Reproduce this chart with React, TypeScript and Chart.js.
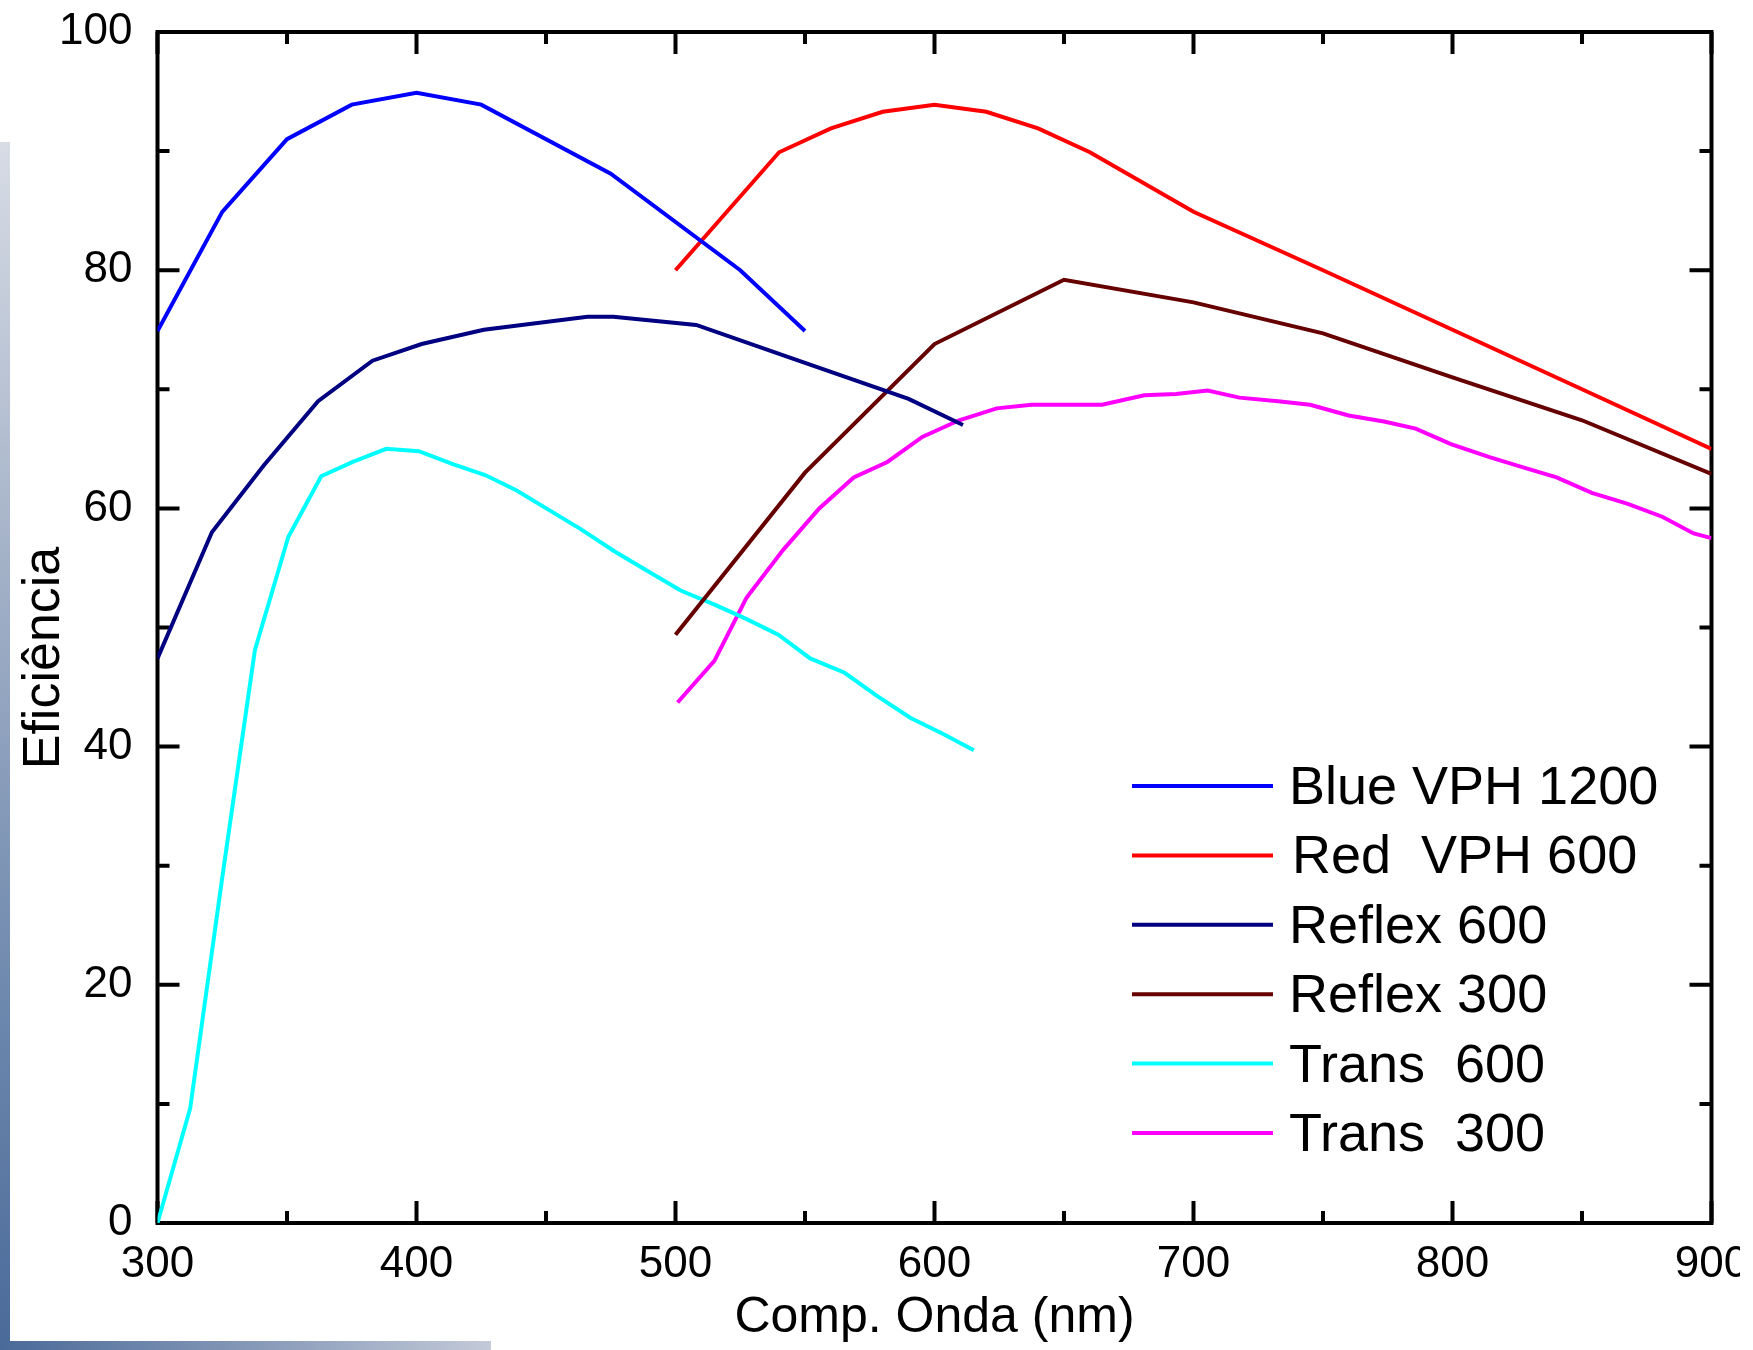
import React, { useEffect, useRef } from "react";
import { Chart, registerables } from "chart.js";

Chart.register(...registerables);

const FONT = "'Liberation Sans', Arial, Helvetica, sans-serif";

// X range / ticks
const X_MIN = 300;
const X_MAX = 900;
const X_STEP = 100;
const X_MINOR = 50;
const Y_MIN = 0;
const Y_MAX = 100;
const Y_STEP = 20;
const Y_MINOR = 10;

const X_TITLE = "Comp. Onda (nm)";
const Y_TITLE = "Eficiência";

const LABELS = ["Blue VPH 1200", "Red  VPH 600", "Reflex 600", "Reflex 300", "Trans  600", "Trans  300"];
const COLORS = ["#0000ff", "#ff0000", "#000080", "#660000", "#00ffff", "#ff00ff"];

const blueX = [300, 325, 350, 375, 400, 425, 475, 525, 550];
const blueY = [74.9, 84.9, 91.0, 93.9, 94.9, 93.9, 88.1, 80.0, 74.9];

const redX = [500, 540, 560, 580, 600, 620, 640, 660, 700, 750, 800, 850, 900];
const redY = [80.0, 89.9, 91.9, 93.3, 93.9, 93.3, 91.9, 89.9, 84.9, 80.0, 75.0, 70.0, 65.0];

const reflex600X = [300, 321, 341, 362, 383, 402, 426, 466, 476, 508, 545, 590, 611];
const reflex600Y = [47.4, 58.0, 63.6, 69.0, 72.4, 73.8, 75.0, 76.1, 76.1, 75.4, 72.6, 69.2, 67.0];

const reflex300X = [500, 550, 600, 650, 700, 750, 800, 850, 900];
const reflex300Y = [49.4, 63.0, 73.8, 79.2, 77.3, 74.7, 71.0, 67.4, 62.9];

const trans600X = [300, 312.6, 325, 337.6, 350.5, 363.2, 375.4, 388.3, 400.9, 414.3, 426.5, 438.7, 450.9, 463.1, 476.4, 488.7, 502, 515.3, 527.5, 539.7, 552, 565.3, 577.5, 590.8, 603, 615.2];
const trans600Y = [0, 9.6, 29, 48.1, 57.6, 62.7, 63.9, 65.0, 64.8, 63.7, 62.8, 61.5, 59.9, 58.3, 56.4, 54.8, 53.1, 51.9, 50.7, 49.4, 47.4, 46.2, 44.3, 42.4, 41.1, 39.7];

const trans300X = [500.8, 515, 527.4, 541.5, 555.5, 568.8, 581.8, 595.3, 609.5, 624, 637.5, 664.7, 681, 693.2, 705.5, 717.7, 732.7, 745, 759.9, 773.5, 785.8, 799.4, 814.3, 827.9, 840.2, 853.8, 867.4, 881, 893.1, 900];
const trans300Y = [43.7, 47.2, 52.5, 56.5, 60.0, 62.6, 63.9, 66.0, 67.4, 68.4, 68.7, 68.7, 69.5, 69.6, 69.9, 69.3, 69.0, 68.7, 67.8, 67.3, 66.7, 65.4, 64.3, 63.4, 62.6, 61.3, 60.4, 59.3, 57.9, 57.5];

const SERIES_X = [blueX, redX, reflex600X, reflex300X, trans600X, trans300X];
const SERIES_Y = [blueY, redY, reflex600Y, reflex300Y, trans600Y, trans300Y];

const W = 1753;
const H = 1350;

const framePlugin = {
  id: "frameTicks",
  beforeDatasetsDraw(chart: any) {
    const { ctx, chartArea: a, scales } = chart;
    const x = scales.x;
    const y = scales.y;
    ctx.save();
    ctx.strokeStyle = "#000";
    ctx.lineWidth = 4;
    ctx.lineCap = "butt";
    ctx.strokeRect(a.left, a.top, a.right - a.left, a.bottom - a.top);
    ctx.beginPath();
    for (let v = X_MIN; v <= X_MAX; v += X_MINOR) {
      const px = x.getPixelForValue(v);
      const L = v % X_STEP === 0 ? 22 : 12;
      ctx.moveTo(px, a.bottom);
      ctx.lineTo(px, a.bottom - L);
      ctx.moveTo(px, a.top);
      ctx.lineTo(px, a.top + L);
    }
    for (let v = Y_MIN; v <= Y_MAX; v += Y_MINOR) {
      const py = y.getPixelForValue(v);
      const L = v % Y_STEP === 0 ? 22 : 12;
      ctx.moveTo(a.left, py);
      ctx.lineTo(a.left + L, py);
      ctx.moveTo(a.right, py);
      ctx.lineTo(a.right - L, py);
    }
    ctx.stroke();
    ctx.restore();
  },
  afterDraw(chart: any) {
    const { ctx } = chart;
    ctx.save();
    // Y title
    ctx.fillStyle = "#000";
    ctx.font = `52px ${FONT}`;
    ctx.textAlign = "center";
    ctx.textBaseline = "middle";
    ctx.translate(45, 658);
    ctx.rotate(-Math.PI / 2);
    ctx.fillText(Y_TITLE, 0, 0);
    ctx.restore();

    // Legend
    ctx.save();
    const ds = chart.data.datasets;
    ctx.font = `54px ${FONT}`;
    ctx.textAlign = "left";
    ctx.textBaseline = "alphabetic";
    for (let i = 0; i < ds.length; i++) {
      const ly = 786 + i * 69.4;
      ctx.strokeStyle = ds[i].borderColor;
      ctx.lineWidth = 4;
      ctx.beginPath();
      ctx.moveTo(1132, ly);
      ctx.lineTo(1273, ly);
      ctx.stroke();
      ctx.fillStyle = "#000";
      ctx.fillText(ds[i].label, i === 1 ? 1292 : 1289, ly + 18);
    }
    ctx.restore();
  },
};

export default function App() {
  const ref = useRef<HTMLCanvasElement | null>(null);

  useEffect(() => {
    document.body.style.margin = "0";
    document.body.style.background = "#ffffff";
    const canvas = ref.current;
    if (!canvas) return;
    const datasets = LABELS.map((label, i) => ({
      label,
      data: SERIES_X[i].map((xv, k) => ({ x: xv, y: SERIES_Y[i][k] })),
      borderColor: COLORS[i],
      backgroundColor: COLORS[i],
      borderWidth: 4,
      pointRadius: 0,
      showLine: true,
      tension: 0,
      fill: false,
    }));
    const chart = new Chart(canvas, {
      type: "scatter",
      data: { datasets },
      plugins: [framePlugin],
      options: {
        animation: false,
        responsive: false,
        devicePixelRatio: 1,
        layout: { padding: { top: 32, right: 41.5, bottom: 0, left: 0 } },
        plugins: {
          legend: { display: false },
          tooltip: { enabled: false },
        },
        scales: {
          x: {
            type: "linear",
            min: X_MIN,
            max: X_MAX,
            ticks: {
              stepSize: X_STEP,
              autoSkip: false,
              maxRotation: 0,
              color: "#000",
              padding: 15,
              font: { family: FONT, size: 44 },
            },
            grid: { display: false, drawTicks: false },
            border: { display: false },
            title: {
              display: true,
              text: X_TITLE,
              color: "#000",
              font: { family: FONT, size: 50 },
              padding: { top: 0, bottom: 2 },
            },
            afterFit: (s: any) => {
              s.height = H - 1223;
              s.paddingLeft = 0;
              s.paddingRight = 0;
            },
          },
          y: {
            type: "linear",
            min: Y_MIN,
            max: Y_MAX,
            ticks: {
              stepSize: Y_STEP,
              color: "#000",
              padding: 25,
              font: { family: FONT, size: 44 },
            },
            grid: { display: false, drawTicks: false },
            border: { display: false },
            afterFit: (s: any) => {
              s.width = 157.5;
              s.paddingTop = 0;
              s.paddingBottom = 0;
            },
          },
        },
      } as any,
    });
    return () => chart.destroy();
  }, []);

  return (
    <div style={{ position: "relative", width: W, height: H, background: "#fff", overflow: "hidden" }}>
      <canvas ref={ref} width={W} height={H} style={{ display: "block", width: W, height: H }} />
      <div
        style={{
          position: "absolute",
          left: 0,
          top: 142,
          width: 10,
          height: H - 142,
          background: "linear-gradient(to bottom, #d7dce5 0%, #a3b1c7 35%, #6f89ae 70%, #4a6a99 100%)",
        }}
      />
      <div
        style={{
          position: "absolute",
          left: 0,
          top: 1341,
          width: 491,
          height: 9,
          background: "linear-gradient(to right, #4a6a99 0%, #8a9cba 55%, #c3cad8 100%)",
        }}
      />
      <div style={{ position: "absolute", left: 1740, top: 1228, width: 13, height: 70, background: "#fff" }} />
    </div>
  );
}
